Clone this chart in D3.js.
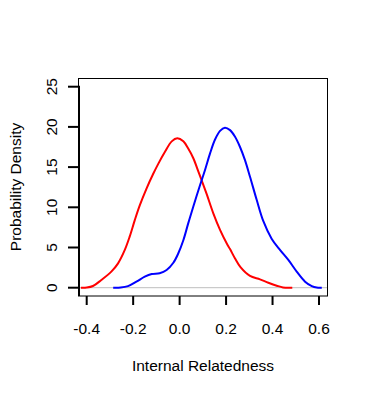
<!DOCTYPE html>
<html>
<head>
<meta charset="utf-8">
<script src="https://cdn.jsdelivr.net/npm/d3@7"></script>
<style>
  body { margin: 0; background: #fff; }
  text { font-family: "Liberation Sans", Arial, sans-serif; fill: #000; }
</style>
</head>
<body>
<svg id="chart"></svg>
<script>
// Density curves: [Internal Relatedness, density]
const redSeries = [
  [-0.425, 0], [-0.40, 0.02], [-0.373, 0.21], [-0.337, 0.96], [-0.294, 2.0],
  [-0.265, 3.03], [-0.236, 4.7], [-0.215, 6.35], [-0.193, 8.4], [-0.172, 10.2],
  [-0.143, 12.3], [-0.113, 14.2], [-0.092, 15.4], [-0.063, 16.9], [-0.034, 18.2],
  [-0.010, 18.58], [0.016, 18.2], [0.037, 17.3], [0.059, 16.1], [0.080, 14.5],
  [0.102, 12.8], [0.117, 11.6], [0.145, 9.25], [0.174, 7.2], [0.203, 5.5],
  [0.217, 4.8], [0.238, 3.66], [0.262, 2.55], [0.303, 1.46], [0.346, 1.04],
  [0.382, 0.62], [0.418, 0.25], [0.445, 0.03], [0.485, 0]
];
const blueSeries = [
  [-0.286, 0], [-0.254, 0.02], [-0.222, 0.2], [-0.186, 0.75], [-0.150, 1.37],
  [-0.120, 1.7], [-0.086, 1.8], [-0.056, 2.2], [-0.027, 3.1], [-0.006, 4.25],
  [0.016, 5.9], [0.037, 8.0], [0.059, 10.1], [0.085, 12.5], [0.109, 14.6],
  [0.131, 16.7], [0.152, 18.4], [0.174, 19.5], [0.195, 19.9], [0.217, 19.6],
  [0.238, 18.8], [0.260, 17.5], [0.281, 15.9], [0.303, 13.8],
  [0.332, 10.9], [0.360, 8.3], [0.396, 6.1], [0.432, 4.7], [0.468, 3.45],
  [0.504, 2.0], [0.540, 0.75], [0.569, 0.2], [0.590, 0.02], [0.612, 0]
];
const xTicks = [-0.4, -0.2, 0.0, 0.2, 0.4, 0.6];
const yTicks = [0, 5, 10, 15, 20, 25];

const width = 368, height = 393;
const box = {left: 78.5, right: 327.5, top: 78.5, bottom: 296};

const svg = d3.select('#chart')
    .attr('width', width)
    .attr('height', height);

// scales (R style: axis range padded inside the box)
const x = d3.scaleLinear().domain([-0.4, 0.6]).range([86.7, 319]);
const y = d3.scaleLinear().domain([0, 25]).range([287.7, 86.7]);

// zero reference line
svg.append('line')
    .attr('x1', box.left).attr('x2', box.right)
    .attr('y1', y(0)).attr('y2', y(0))
    .attr('stroke', '#bebebe')
    .attr('stroke-width', 1);

const line = d3.line()
    .x(d => x(d[0]))
    .y(d => y(d[1]))
    .curve(d3.curveCatmullRom.alpha(0.5));

svg.append('path')
    .datum(redSeries)
    .attr('d', line)
    .attr('fill', 'none')
    .attr('stroke', '#ff0000')
    .attr('stroke-width', 2);

svg.append('path')
    .datum(blueSeries)
    .attr('d', line)
    .attr('fill', 'none')
    .attr('stroke', '#0000ff')
    .attr('stroke-width', 2);

// plot frame
svg.append('rect')
    .attr('x', box.left).attr('y', box.top)
    .attr('width', box.right - box.left)
    .attr('height', box.bottom - box.top)
    .attr('fill', 'none')
    .attr('stroke', '#000')
    .attr('stroke-width', 1);

// y axis
const yAxisG = svg.append('g');
yAxisG.append('line')
    .attr('x1', 79).attr('x2', 79)
    .attr('y1', y(25) - 1).attr('y2', box.bottom)
    .attr('stroke', '#000').attr('stroke-width', 2);
yAxisG.selectAll('.ytick')
    .data(yTicks)
    .join('line')
    .attr('class', 'ytick')
    .attr('x1', 68).attr('x2', 79)
    .attr('y1', d => y(d)).attr('y2', d => y(d))
    .attr('stroke', '#000').attr('stroke-width', 2);
yAxisG.selectAll('.ylab')
    .data(yTicks)
    .join('text')
    .attr('class', 'ylab')
    .attr('transform', d => `translate(51,${y(d)}) rotate(-90)`)
    .attr('text-anchor', 'middle')
    .attr('dominant-baseline', 'central')
    .style('font-size', '15.5px')
    .text(d => d);

// x axis
const xAxisG = svg.append('g');
xAxisG.selectAll('.xtick')
    .data(xTicks)
    .join('line')
    .attr('class', 'xtick')
    .attr('x1', d => x(d)).attr('x2', d => x(d))
    .attr('y1', box.bottom).attr('y2', 305)
    .attr('stroke', '#000').attr('stroke-width', 2);
xAxisG.selectAll('.xlab')
    .data(xTicks)
    .join('text')
    .attr('class', 'xlab')
    .attr('x', d => x(d))
    .attr('y', 333.5)
    .attr('text-anchor', 'middle')
    .style('font-size', '15.5px')
    .text(d => d3.format('.1f')(d).replace('−', '-'));

// axis titles
svg.append('text')
    .attr('x', 203)
    .attr('y', 370.5)
    .attr('text-anchor', 'middle')
    .style('font-size', '15.5px')
    .text('Internal Relatedness');

svg.append('text')
    .attr('transform', 'translate(15,187) rotate(-90)')
    .attr('text-anchor', 'middle')
    .attr('dominant-baseline', 'central')
    .style('font-size', '15.5px')
    .text('Probability Density');
</script>
</body>
</html>
